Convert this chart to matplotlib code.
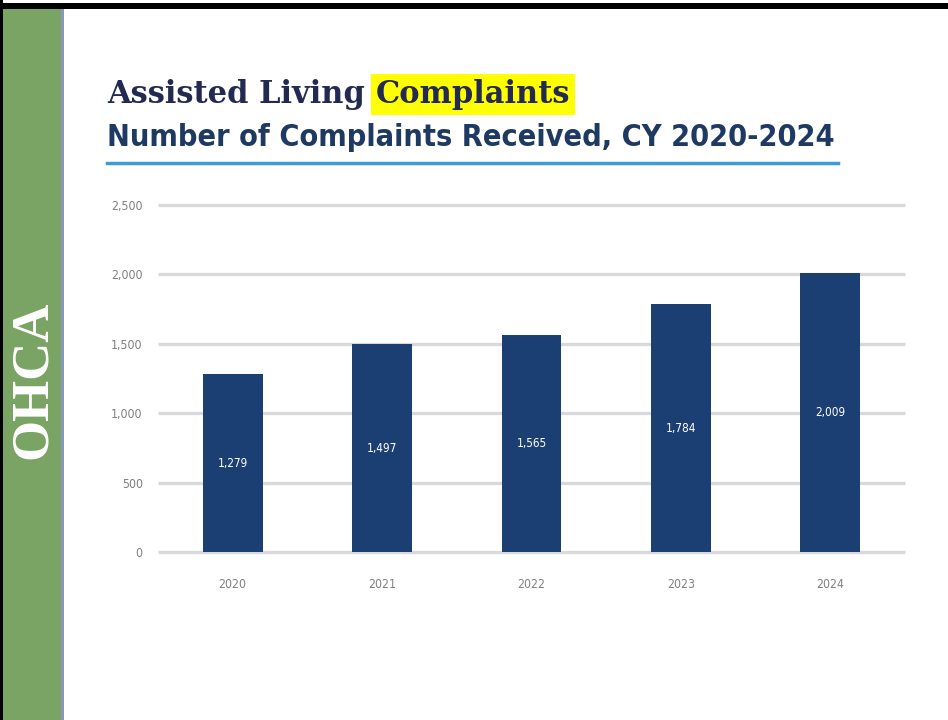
import matplotlib
matplotlib.use('Agg')
import matplotlib.pyplot as plt
from matplotlib.patches import Rectangle

# ---- data ----
years = ['2020', '2021', '2022', '2023', '2024']
complaints = [1279, 1497, 1565, 1784, 2009]
y_ticks = [0, 500, 1000, 1500, 2000, 2500]

W, H = 948, 720
fig = plt.figure(figsize=(W / 100, H / 100), dpi=100)
fig.patch.set_facecolor('white')

def fx(px):
    return px / W

def fy(py):
    return 1 - py / H

def fit_width(txt, target_px):
    # scale font size so the text spans target_px
    r = fig.canvas.get_renderer()
    w = txt.get_window_extent(r).width
    txt.set_fontsize(txt.get_fontsize() * target_px / w)

# frame: black top/left edge, green side band
fig.patches.append(Rectangle((0, fy(9)), 1, fy(3) - fy(9), transform=fig.transFigure,
                             facecolor='black', edgecolor='none', zorder=0))
fig.patches.append(Rectangle((0, 0), fx(3), 1, transform=fig.transFigure,
                             facecolor='black', edgecolor='none', zorder=0))
fig.patches.append(Rectangle((fx(3), 0), fx(58), fy(9), transform=fig.transFigure,
                             facecolor='#7aa464', edgecolor='none', zorder=0))
fig.patches.append(Rectangle((fx(61), 0), fx(3), fy(9), transform=fig.transFigure,
                             facecolor='#8797bd', edgecolor='none', zorder=0))

fig.text(fx(33), fy(380), 'OHCA', rotation=90, color='white', fontsize=38,
         fontweight='bold', family='Liberation Serif', ha='center', va='center')

# titles
navy = '#222a52'
t1 = fig.text(fx(107), fy(103), 'Assisted Living ', color=navy, fontsize=22,
              fontweight='bold', family='DejaVu Serif', ha='left', va='baseline')
fig.canvas.draw()
r = fig.canvas.get_renderer()
bb = t1.get_window_extent(r)
t2 = fig.text(bb.x1 / W, fy(103), 'Complaints', color=navy, fontsize=22,
              fontweight='bold', family='DejaVu Serif', ha='left', va='baseline',
              bbox=dict(boxstyle='square,pad=0.16', facecolor='#ffff00', edgecolor='none'))
t3 = fig.text(fx(107), fy(146), 'Number of Complaints Received, CY 2020-2024',
              color='#1f3a62', fontsize=24, fontweight='bold', fontstretch='condensed',
              family='DejaVu Sans', ha='left', va='baseline')
fit_width(t3, 731)
fig.lines.append(plt.Line2D([fx(107), fx(838)], [fy(163), fy(163)], transform=fig.transFigure,
                            color='#3d9bd6', linewidth=2.5))

# chart
narrow = dict(family='DejaVu Sans', fontstretch='condensed')
ax = fig.add_axes([fx(158), fy(552), fx(905) - fx(158), fy(205) - fy(552)])
x = list(range(len(years)))
ax.bar(x, complaints, width=0.4, color='#1c3f73', zorder=3)
ax.hlines(y_ticks, -0.5, len(years) - 0.5, colors='#d9d9d9', linewidth=2.4, zorder=1, clip_on=False)
for xi, v in zip(x, complaints):
    ax.text(xi, v / 2, f'{v:,}', color='white', fontsize=8.5, ha='center', va='center',
            zorder=4, **narrow)
ax.set_xlim(-0.5, len(years) - 0.5)
ax.set_ylim(0, 2500)
ax.set_xticks(x)
ax.set_xticklabels(years)
ax.set_yticks(y_ticks)
ax.set_yticklabels([f'{t:,}' for t in y_ticks])
ax.tick_params(length=0, colors='#808080', labelsize=8.8)
ax.tick_params(axis='x', pad=19)
ax.tick_params(axis='y', pad=11)
for lab in ax.get_xticklabels() + ax.get_yticklabels():
    lab.set_family('DejaVu Sans')
    lab.set_fontstretch('condensed')
for s in ax.spines.values():
    s.set_visible(False)
ax.set_facecolor('none')

fig.savefig('out.png', dpi=100, facecolor='white')
